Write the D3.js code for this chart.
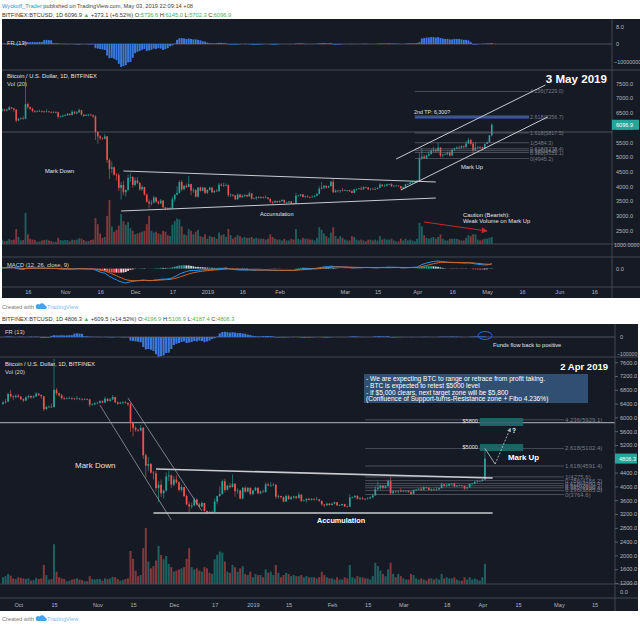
<!DOCTYPE html>
<html>
<head>
<meta charset="utf-8">
<script src="https://cdn.jsdelivr.net/npm/d3@7"></script>
<style>
  html, body { margin: 0; padding: 0; background: #ffffff; }
  svg { display: block; font-family: "Liberation Sans", Arial, sans-serif; white-space: pre; }
</style>
</head>
<body>
<svg id="chart" width="640" height="627"></svg>
<script>
// Daily BITFINEX BTC/USD candles, 2018-09-25 .. 2019-05-03 (open = previous close)
const START_DAY = "2018-09-25";
const FIRST_OPEN = 6390;

const closes = [
  6430, 6460, 6680, 6610, 6590, 6630,
  6600, 6530, 6490, 6580, 6620, 6580, 6610, 6690, 6650, 6610,
  6240, 6300, 6310, 6300, 6800, 6700, 6640, 6560, 6540, 6550,
  6560, 6550, 6530, 6550, 6530, 6520, 6530, 6520, 6370, 6380, 6410,
  6420, 6470, 6430, 6540, 6480, 6520, 6590, 6440, 6400, 6430,
  6440, 6420, 6380, 5850, 5700, 5640, 5620, 5700, 4900, 4600,
  4650, 4400, 4380, 3950, 4050, 3800, 3880, 4290, 4320, 4050,
  4200, 4120, 3900, 3980, 3720, 3480, 3420, 3450, 3620, 3480,
  3420, 3520, 3290, 3250, 3240, 3260, 3560, 3720, 3780, 4150,
  3900, 4020, 3980, 4080, 3860, 3880, 3650, 3960, 3850, 3960, 3780,
  3880, 3960, 3800, 3850, 3840, 4060, 4030, 4040, 4050, 3700,
  3720, 3690, 3560, 3720, 3630, 3680, 3710, 3660, 3760, 3580,
  3600, 3640, 3610, 3640, 3620, 3625, 3580, 3480, 3450, 3500, 3460,
  3500, 3540, 3450, 3455, 3490, 3420, 3410, 3680, 3690, 3730,
  3640, 3660, 3640, 3630, 3650, 3680, 3740, 3920, 3960, 4020,
  3960, 4010, 4160, 3800, 3860, 3850, 3860, 3850,
  3870, 3875, 3840, 3780, 3900, 3910, 3930, 3900, 3980, 3960,
  3900, 3920, 3900, 3910, 3950, 4060, 4010, 4020, 4070, 4080,
  4000, 4020, 4030, 4010, 3940, 3970, 4070, 4080, 4130, 4150, 4155,
  4197, 4950, 5010, 4950, 5050, 5100, 5220, 5250, 5200, 5320,
  5050, 5080, 5090, 5150, 5050, 5250, 5280, 5320, 5310, 5370,
  5340, 5460, 5580, 5450, 5220, 5320, 5340, 5330, 5300, 5440,
  5500, 5736.6, 6096.9
];

const highs = [
  6480, 6530, 6720, 6800, 6640, 6660,
  6680, 6620, 6550, 6620, 6660, 6640, 6640, 6730, 6700, 6670,
  6620, 6340, 6350, 6400, 7700, 6850, 6720, 6680, 6600, 6590,
  6610, 6590, 6570, 6620, 6570, 6560, 6560, 6560, 6540, 6410, 6450,
  6460, 6500, 6490, 6600, 6560, 6560, 6650, 6600, 6460, 6460,
  6470, 6480, 6440, 6420, 5880, 5750, 5670, 5780, 5720, 4950,
  4850, 4680, 4450, 4450, 4150, 4200, 3900, 4400, 4450, 4350,
  4300, 4320, 4150, 4050, 3990, 3760, 3560, 3530, 3680, 3650,
  3520, 3570, 3530, 3300, 3290, 3300, 3650, 3730, 4000, 4200,
  4220, 4050, 4100, 4350, 4090, 3950, 3900, 3980, 4000, 3980, 3970,
  3900, 3990, 3970, 3880, 3910, 4120, 4110, 4130, 4100, 4060,
  3760, 3730, 3710, 3760, 3760, 3730, 3730, 3720, 3820, 3780,
  3620, 3660, 3670, 3660, 3660, 3700, 3640, 3590, 3490, 3530, 3520,
  3530, 3560, 3550, 3480, 3500, 3500, 3440, 3780, 3710, 3740,
  3740, 3690, 3700, 3660, 3690, 3710, 3780, 4000, 4150, 4050,
  4040, 4030, 4200, 4276, 3900, 3880, 3880, 3950,
  3900, 3880, 3880, 3860, 3910, 3930, 3950, 3990, 4000, 3990,
  3980, 3940, 3940, 3980, 3970, 4110, 4070, 4080, 4090, 4100,
  4110, 4040, 4050, 4040, 4020, 3990, 4090, 4100, 4160, 4190, 4170,
  4220, 5150, 5300, 5080, 5080, 5200, 5270, 5350, 5260, 5484,
  5340, 5110, 5130, 5180, 5200, 5270, 5320, 5360, 5380, 5400,
  5380, 5540, 5650, 5620, 5520, 5500, 5380, 5370, 5350, 5460,
  5530, 5760, 6145
];

const lows = [
  6360, 6400, 6440, 6560, 6500, 6550,
  6560, 6500, 6440, 6470, 6540, 6540, 6550, 6590, 6620, 6540,
  6180, 6220, 6280, 6270, 6280, 6640, 6600, 6520, 6500, 6520,
  6530, 6510, 6500, 6510, 6500, 6490, 6500, 6500, 6300, 6340, 6350,
  6380, 6400, 6410, 6410, 6450, 6460, 6500, 6410, 6360, 6390,
  6380, 6390, 6330, 5580, 5450, 5580, 5570, 5600, 4800, 4250,
  4450, 4370, 4200, 3850, 3550, 3700, 3650, 3850, 4150, 3950,
  4000, 4080, 3850, 3850, 3690, 3450, 3250, 3350, 3420, 3440,
  3380, 3400, 3270, 3200, 3220, 3220, 3240, 3480, 3700, 3760,
  3830, 3880, 3940, 3970, 3700, 3780, 3620, 3620, 3820, 3830, 3740,
  3740, 3860, 3770, 3770, 3820, 3810, 4000, 3980, 4010, 3640,
  3640, 3640, 3540, 3550, 3610, 3620, 3630, 3630, 3650, 3550,
  3560, 3530, 3590, 3590, 3580, 3600, 3550, 3430, 3400, 3440, 3440,
  3450, 3480, 3430, 3430, 3440, 3400, 3390, 3400, 3650, 3650,
  3620, 3600, 3610, 3600, 3620, 3640, 3660, 3730, 3900, 3900,
  3920, 3940, 3990, 3770, 3790, 3800, 3780, 3830,
  3840, 3820, 3810, 3765, 3770, 3860, 3890, 3870, 3890, 3930,
  3880, 3860, 3880, 3870, 3900, 3940, 3990, 3990, 4000, 4040,
  3980, 3990, 4000, 3990, 3900, 3920, 3960, 4050, 4060, 4100, 4130,
  4140, 4187, 4900, 4945, 4940, 5020, 5080, 5170, 5150, 5180,
  4980, 4980, 5060, 5060, 5020, 5040, 5220, 5270, 5260, 5290,
  5300, 5320, 5440, 5400, 5100, 5200, 5290, 5290, 5240, 5290,
  5440, 5480, 5702.3
];

// volume, relative units (largest bar = 100)
const volumes = [
  12, 14, 18, 15, 10, 9,
  12, 11, 10, 9, 10, 6, 7, 11, 9, 10,
  34, 16, 8, 9, 71, 22, 12, 10, 9, 5,
  6, 8, 9, 10, 8, 7, 5, 5, 14, 9, 8,
  9, 9, 6, 10, 9, 10, 13, 12, 9, 6,
  7, 9, 10, 59, 45, 24, 14, 16, 64, 100,
  40, 28, 32, 42, 68, 52, 44, 50, 36, 30,
  22, 24, 26, 28, 30, 45, 64, 30, 26, 28,
  24, 22, 30, 28, 20, 18, 44, 52, 58, 56,
  40, 22, 20, 34, 30, 22, 28, 32, 18, 16, 22,
  12, 18, 16, 16, 12, 26, 20, 22, 16, 34,
  20, 12, 16, 20, 18, 14, 16, 14, 14, 16,
  12, 14, 12, 12, 12, 10, 12, 22, 16, 12, 10,
  10, 8, 12, 8, 8, 12, 10, 34, 12, 10,
  14, 12, 12, 10, 10, 8, 14, 38, 32, 24,
  18, 14, 26, 38, 18, 12, 18, 14,
  10, 8, 8, 18, 16, 10, 8, 10, 8, 6,
  10, 10, 8, 10, 8, 18, 10, 12, 10, 10,
  12, 8, 6, 6, 12, 8, 12, 8, 10, 8, 6,
  12, 48, 40, 20, 14, 12, 14, 16, 12, 16,
  22, 12, 8, 8, 12, 12, 12, 12, 10, 8,
  8, 14, 20, 18, 22, 22, 10, 8, 10, 12,
  12, 14, 16
];

// FR (13) histogram, relative units (deepest bar = -100)
const fundFlow = [
  0, 2, 3, 2, 1, 0,
  1, 2, 1, 0, 1, 2, 1, 2, 1, -4,
  -5, -4, -3, 6, 9, 8, 8, 9, 8, 8,
  9, 9, 17, 18, 17, 16, 4, 3, 2, 1, 1,
  1, -1, 0, 1, -1, -2, -2, -1, 0, -1,
  -2, -2, -1, -18, -20, -22, -24, -26, -50, -62,
  -60, -64, -70, -86, -100, -96, -92, -80, -78, -60,
  -40, -34, -30, -25, -22, -30, -28, -25, -20, -22,
  -18, -20, -26, -22, -18, -10, -6, 2, 18, 25,
  26, 24, 22, 24, 22, 20, 20, 18, 16, 12, 10,
  6, 4, 3, 3, 4, 5, 5, 4, 3, -2,
  -3, -2, -3, -2, -1, 0, 1, 0, -1, -3,
  -4, -3, -3, -2, -1, 0, 0, -2, -3, -3, -2,
  -1, 0, 0, 0, 0, 0, 0, 2, 3, 3,
  2, 1, 0, 0, 0, 0, 1, 3, 4, 4,
  3, 3, 4, -2, -3, -2, -2, -1,
  0, 0, 0, -1, 0, 0, 0, 0, 1, 1,
  0, 0, 0, 0, 1, 2, 2, 2, 2, 3,
  2, 2, 1, 1, 0, 0, 1, 2, 3, 3, 3,
  4, 8, 24, 26, 28, 28, 30, 30, 28, 30,
  26, 24, 22, 22, 20, 20, 22, 22, 22, 20,
  18, 18, 16, 8, -2, -3, -1, 0, 1, 1,
  2, 3, 4
];

// the Apr 2 candle as it stood when the lower chart was published
const apr2Snapshot = { day: "2019-04-02", open: 4196.9, high: 5106.9, low: 4187.4, close: 4806.3, vol: 36, fr: 3 };

const topPriceTicks = [7500, 7000, 6500, 6000, 5500, 5000, 4500, 4000, 3500, 3000, 2500];
const bottomPriceTicks = [7600, 7200, 6800, 6400, 6000, 5600, 5200, 4400, 4000, 3600, 3200, 2800, 2400, 2000, 1600, 1200];

const topTickDays = ["2018-10-16", "2018-11-01", "2018-11-16", "2018-12-01", "2018-12-17", "2019-01-01", "2019-01-16", "2019-02-01",
  "2019-03-01", "2019-03-15", "2019-04-01", "2019-04-16", "2019-05-01", "2019-05-16", "2019-06-01", "2019-06-16"];
const topTickLabels = ["16", "Nov", "16", "Dec", "17", "2019", "16", "Feb", "Mar", "15", "Apr", "16", "May", "16", "Jun", "16"];
const bottomTickDays = ["2018-10-01", "2018-10-15", "2018-11-01", "2018-11-15", "2018-12-01", "2018-12-17", "2019-01-01", "2019-01-15",
  "2019-02-01", "2019-02-15", "2019-03-01", "2019-03-18", "2019-04-01", "2019-04-15", "2019-05-01", "2019-05-15"];
const bottomTickLabels = ["Oct", "15", "Nov", "15", "Dec", "17", "2019", "15", "Feb", "15", "Mar", "18", "Apr", "15", "May", "15"];

const topFibRatios = ["4.236", "2.618", "1.618", "1", "0.618", "0.5", "0.382", "0"];
const topFibPrices = [7229.0, 6356.7, 5817.5, 5484.3, 5278.4, 5214.8, 5151.1, 4945.2];
const topFibSpan = ["2019-03-31", "2019-05-19"];
const bottomFibRatios = ["4.236", "2.618", "1.618", "1", "0.786", "0.618", "0.5", "0.382", "0.236", "0"];
const bottomFibPrices = [5929.1, 5102.4, 4591.4, 4275.6, 4166.2, 4080.4, 4020.1, 3959.8, 3885.2, 3764.6];
const bottomFibSpan = ["2019-02-14", "2019-05-03"];

const RESIST_PRICE = 5850;

// drawn trend lines: [day, price] -> [day, price]
const topTrendLines = [
  [["2018-11-26", 4524], ["2019-04-09", 4150]],
  [["2018-11-25", 3163], ["2019-04-09", 3605]],
  [["2019-03-23", 4932], ["2019-05-26", 7449]],
  [["2019-03-25", 3878], ["2019-05-27", 6361]]
];
const topArrow = [["2019-04-04", 2789], ["2019-05-01", 2483]];
const topTargetBand = { from: "2019-03-31", to: "2019-05-19", lo: 6300, hi: 6420 };

const bottomChannelLines = [
  [["2018-11-02", 6359], ["2018-11-30", 3026]],
  [["2018-11-13", 6562], ["2018-12-12", 3287]]
];
const bottomRangeLines = [
  [["2018-11-24", 4504], ["2019-04-05", 4243]],
  [["2018-11-23", 3229], ["2019-04-05", 3229]]
];
const bottomZoneLabels = ["$5800", "$5000"];
const bottomZoneLo = [5751, 5026];
const bottomZoneHi = [5983, 5229];
const bottomZoneSpan = ["2019-03-31", "2019-04-17"];
const bottomPathSolid = [["2019-04-02", 5100], ["2019-04-06", 4650]];
const bottomPathDashed = [["2019-04-06", 4650], ["2019-04-12", 5690]];

const noteLines = [
  "- We are expecting BTC to range or retrace from profit taking.",
  "- BTC is expected to retest $5000 level",
  "- If $5,000 clears, next target zone will be $5,800",
  "(Confluence of Support-turns-Resistance zone + Fibo 4.236%)"
];

const BG = "#161a25";
const SEP = "#434651";
const AXIS_TEXT = "#b2b5be";
const UP = "#26a69a";
const DOWN = "#ef5350";
const FR_BLUE = "#3b78dc";
const FIB = "#787b86";
const DARK = "#333333";
const GREEN = "#4caf50";

const parseDay = d3.timeParse("%Y-%m-%d");
const parseHour = d3.timeParse("%Y-%m-%d %H");
const day0 = parseDay(START_DAY);

const bars = closes.map((c, i) => ({
  date: d3.timeDay.offset(day0, i),
  open: i === 0 ? FIRST_OPEN : closes[i - 1],
  high: highs[i], low: lows[i], close: c,
  vol: volumes[i], fr: fundFlow[i]
}));

const snapDate = parseDay(apr2Snapshot.day);
const barsApr2 = bars.filter(d => d.date < snapDate)
  .concat([{ date: snapDate, open: apr2Snapshot.open, high: apr2Snapshot.high, low: apr2Snapshot.low,
    close: apr2Snapshot.close, vol: apr2Snapshot.vol, fr: apr2Snapshot.fr }]);

const svg = d3.select("#chart");
const defs = svg.append("defs");
let clipCount = 0;

function clipRect(x, y, w, h) {
  const id = "clip" + (clipCount++);
  defs.append("clipPath").attr("id", id)
    .append("rect").attr("x", x).attr("y", y).attr("width", w).attr("height", h);
  return `url(#${id})`;
}

function addMarker(id, color) {
  defs.append("marker").attr("id", id).attr("viewBox", "0 0 10 10")
    .attr("refX", 9).attr("refY", 5).attr("markerWidth", 5).attr("markerHeight", 5)
    .attr("orient", "auto")
    .append("path").attr("d", "M0,0L10,5L0,10z").attr("fill", color);
}
addMarker("redHead", "#c62828");
addMarker("greyHead", "#b2b5be");

function text(g, s, x, y, size, fill, opts = {}) {
  return g.append("text").attr("x", x).attr("y", y)
    .attr("font-size", size).attr("fill", fill)
    .attr("font-weight", opts.bold ? "bold" : null)
    .attr("text-anchor", opts.anchor || null)
    .text(s);
}

function header(y, parts) {
  const t = svg.append("text").attr("x", 2).attr("y", y).attr("font-size", 5.7);
  parts.forEach(([s, col]) => t.append("tspan").attr("fill", col).text(s));
}

function createdWith(y) {
  const g = svg.append("g");
  text(g, "Created with", 2, y, 5.7, "#777");
  g.append("path")
    .attr("d", `M37,${y} h9 a2,2 0 0 0 -1,-3.6 a3,3 0 0 0 -5.4,-0.8 a2.2,2.2 0 0 0 -2.6,4.4 z`)
    .attr("fill", "#47a3e6");
  text(g, "TradingView", 47, y, 5.7, "#7cbdf0");
}

function ema(vals, n) {
  const k = 2 / (n + 1);
  let prev;
  return vals.map((v, i) => (prev = i === 0 ? v : v * k + prev * (1 - k)));
}

function lineAt(g, x, y, pts, stroke, width, extra = {}) {
  const l = g.append("line")
    .attr("x1", x(parseDay(pts[0][0]))).attr("y1", y(pts[0][1]))
    .attr("x2", x(parseDay(pts[1][0]))).attr("y2", y(pts[1][1]))
    .attr("stroke", stroke).attr("stroke-width", width);
  if (extra.dash) l.attr("stroke-dasharray", extra.dash);
  if (extra.marker) l.attr("marker-end", `url(#${extra.marker})`);
  return l;
}

function drawPanel(c) {
  const g = svg.append("g");
  g.append("rect").attr("x", c.bgL).attr("y", c.top)
    .attr("width", c.bgR - c.bgL).attr("height", c.bottom - c.top).attr("fill", BG);

  const x = d3.scaleTime().domain(c.xDomain.map(parseHour)).range([c.rangeL, c.plotR]);
  const y = d3.scaleLinear().domain(c.priceDomain).range([c.mainBottom, c.priceTopPx]);
  const yVol = d3.scaleLinear().domain([0, 100]).range([c.mainBottom, c.mainBottom - c.volPx]);
  const yFr = d3.scaleLinear().domain([-100, 0]).range([c.frZero + c.frPx, c.frZero]);
  const dayW = x(d3.timeDay.offset(x.domain()[0], 1)) - c.rangeL;
  const plotW = c.plotR - c.bgL;

  // FR pane
  const frG = g.append("g").attr("clip-path", clipRect(c.bgL, c.top, plotW, c.frBottom - c.top));
  frG.append("line").attr("x1", c.bgL).attr("x2", c.plotR).attr("y1", c.frZero).attr("y2", c.frZero)
    .attr("stroke", "#6a6d78").attr("stroke-width", 0.7);
  frG.append("g").selectAll("rect").data(c.series).join("rect")
    .attr("x", d => x(d.date) - dayW * 0.42).attr("width", dayW * 0.84)
    .attr("y", d => Math.min(yFr(d.fr), yFr(0)))
    .attr("height", d => Math.abs(yFr(d.fr) - yFr(0)))
    .attr("fill", FR_BLUE);

  // main pane: volume, candles, resistance line
  const mainClip = clipRect(c.bgL, c.mainTop, plotW, c.mainBottom - c.mainTop);
  const mainG = g.append("g").attr("clip-path", mainClip);
  mainG.append("g").selectAll("rect").data(c.series).join("rect")
    .attr("x", d => x(d.date) - dayW * 0.4).attr("width", dayW * 0.8)
    .attr("y", d => yVol(d.vol)).attr("height", d => yVol(0) - yVol(d.vol))
    .attr("fill", d => d.close >= d.open ? "rgba(38,166,154,0.5)" : "rgba(239,83,80,0.5)");

  mainG.append("line").attr("x1", c.bgL).attr("x2", c.plotR)
    .attr("y1", y(RESIST_PRICE)).attr("y2", y(RESIST_PRICE))
    .attr("stroke", c.resistColor).attr("stroke-width", c.resistWidth);

  const bodyW = Math.max(1, dayW * 0.68);
  mainG.append("g").selectAll("line").data(c.series).join("line")
    .attr("x1", d => x(d.date)).attr("x2", d => x(d.date))
    .attr("y1", d => y(d.high)).attr("y2", d => y(d.low))
    .attr("stroke", d => d.close >= d.open ? UP : DOWN).attr("stroke-width", 0.6);
  mainG.append("g").selectAll("rect").data(c.series).join("rect")
    .attr("x", d => x(d.date) - bodyW / 2).attr("width", bodyW)
    .attr("y", d => y(Math.max(d.open, d.close)))
    .attr("height", d => Math.max(0.6, Math.abs(y(d.open) - y(d.close))))
    .attr("fill", d => d.close >= d.open ? UP : DOWN);

  // MACD (12, 26, close, 9)
  if (c.macd) {
    const cl = c.series.map(d => d.close);
    const e12 = ema(cl, 12), e26 = ema(cl, 26);
    const m = cl.map((_, i) => e12[i] - e26[i]);
    const s = ema(m, 9);
    const md = c.series.map((d, i) => ({ date: d.date, macd: m[i], signal: s[i], hist: m[i] - s[i], prev: i ? m[i - 1] - s[i - 1] : 0 }));
    const vis = md.filter(d => d.date >= x.domain()[0]);
    const ext = d3.extent(vis.flatMap(d => [d.macd, d.signal]));
    const yM = d3.scaleLinear().domain(ext).range([c.macd.low, c.macd.high]);
    const mG = g.append("g").attr("clip-path", clipRect(c.bgL, c.macd.top, plotW, c.macd.bottom - c.macd.top));
    mG.append("g").selectAll("rect").data(md).join("rect")
      .attr("x", d => x(d.date) - dayW * 0.4).attr("width", dayW * 0.8)
      .attr("y", d => Math.min(yM(d.hist), yM(0)))
      .attr("height", d => Math.abs(yM(d.hist) - yM(0)))
      .attr("fill", d => d.hist >= 0 ? (d.hist > d.prev ? "#26a69a" : "#b2dfdb") : (d.hist < d.prev ? "#ff5252" : "#ffcdd2"));
    mG.append("path").datum(md)
      .attr("d", d3.line().x(d => x(d.date)).y(d => yM(d.macd)))
      .attr("fill", "none").attr("stroke", "#2196f3").attr("stroke-width", 1);
    mG.append("path").datum(md)
      .attr("d", d3.line().x(d => x(d.date)).y(d => yM(d.signal)))
      .attr("fill", "none").attr("stroke", "#d9661f").attr("stroke-width", 1);
    text(g, "0.0", c.plotR + 4, yM(0) + 2, 5.6, AXIS_TEXT);
  }

  // pane separators and price scale border
  c.seps.forEach(sy => {
    g.append("line").attr("x1", c.bgL).attr("x2", c.bgR).attr("y1", sy).attr("y2", sy)
      .attr("stroke", SEP).attr("stroke-width", 1);
  });
  g.append("line").attr("x1", c.plotR).attr("x2", c.plotR).attr("y1", c.top).attr("y2", c.bottom)
    .attr("stroke", SEP).attr("stroke-width", 1);

  // price axis
  const pa = g.append("g").attr("transform", `translate(${c.plotR},0)`)
    .call(d3.axisRight(y).tickValues(c.priceTicks).tickFormat(d3.format(".1f"))
      .tickSize(c.tickSize).tickPadding(c.tickPad));
  pa.select(".domain").remove();
  pa.selectAll("line").attr("stroke", "#5d606b");
  pa.selectAll("text").attr("fill", AXIS_TEXT).attr("font-size", 5.6).attr("font-family", null);

  // time axis
  const xa = g.append("g").attr("transform", `translate(0,${c.axisY})`)
    .call(d3.axisBottom(x).tickValues(c.tickDays.map(parseDay)).tickFormat((d, i) => c.tickLabels[i])
      .tickSize(0).tickPadding(c.xPad));
  xa.select(".domain").remove();
  xa.selectAll("text").attr("fill", AXIS_TEXT).attr("font-size", 5.6).attr("font-family", null);

  // last price marker
  const last = c.series[c.series.length - 1];
  g.append("rect").attr("x", c.plotR).attr("y", y(last.close) - 5)
    .attr("width", c.bgR - c.plotR - 1).attr("height", 10).attr("fill", UP);
  text(g, last.close.toFixed(1), c.plotR + 4, y(last.close) + 2, 5.6, "#ffffff");

  // pane titles
  text(g, "FR (13)", c.bgL + 5, c.frLabelY, 5.8, "#d1d4dc");
  text(g, "Bitcoin / U.S. Dollar, 1D, BITFINEX", c.bgL + 5, c.titleY, 5.8, "#e0e3eb");
  text(g, "Vol (20)", c.bgL + 5, c.titleY + 8, 5.8, "#d1d4dc");

  return { g, x, y, mainClip };
}

// ---------- upper chart (3 May 2019) ----------
header(8, [["Wyckoff_Trader", "#2e8fd8"], [" published on TradingView.com, May 03, 2019 22:09:14 +08", "#444"]]);
header(16.5, [["BITFINEX:BTCUSD, 1D 6096.9 ", DARK], ["\u25B2", GREEN], [" +373.1 (+6.52%) O:", DARK], ["5736.6", GREEN],
  [" H:", DARK], ["6145.0", GREEN], [" L:", DARK], ["5702.3", GREEN], [" C:", DARK], ["6096.9", GREEN]]);

const upper = drawPanel({
  series: bars, bgL: 2, bgR: 640, top: 19, bottom: 298, rangeL: 3, plotR: 612,
  xDomain: ["2018-10-05 08", "2019-06-23 14"],
  frZero: 44, frPx: 23, frBottom: 70, frLabelY: 45,
  mainTop: 70, mainBottom: 244, priceTopPx: 71, volPx: 44, priceDomain: [2041, 7925],
  macd: { top: 257, bottom: 287, low: 283, high: 261 },
  seps: [70, 244, 257, 287], axisY: 287, xPad: 3,
  priceTicks: topPriceTicks, tickSize: 0, tickPad: 4,
  tickDays: topTickDays, tickLabels: topTickLabels,
  resistColor: "#5d606b", resistWidth: 0.8, titleY: 78
});

text(upper.g, "8.0", 616, 29, 5.6, AXIS_TEXT);
text(upper.g, "0", 616, 46, 5.6, AXIS_TEXT);
text(upper.g, "\u221210000000", 614, 64, 5.4, AXIS_TEXT);
text(upper.g, "1000.0000", 614, 247, 5.4, AXIS_TEXT);

{
  const { x, y } = upper;
  const a = upper.g.append("g").attr("clip-path", upper.mainClip);
  a.append("rect").attr("x", x(parseDay(topTargetBand.from))).attr("width", x(parseDay(topTargetBand.to)) - x(parseDay(topTargetBand.from)))
    .attr("y", y(topTargetBand.hi)).attr("height", y(topTargetBand.lo) - y(topTargetBand.hi))
    .attr("fill", "#2f4f8f").attr("opacity", 0.9);
  topFibPrices.forEach((p, i) => {
    a.append("line").attr("x1", x(parseDay(topFibSpan[0]))).attr("x2", x(parseDay(topFibSpan[1])))
      .attr("y1", y(p)).attr("y2", y(p)).attr("stroke", FIB).attr("stroke-width", 0.7).attr("opacity", 0.8);
    text(a, `${topFibRatios[i]}(${p.toFixed(1)})`, x(parseDay(topFibSpan[1])) + 1, y(p) + 2, 5.4, FIB);
  });
  topTrendLines.forEach(pts => lineAt(a, x, y, pts, "#c9cbd1", 1));
  lineAt(a, x, y, topArrow, "#c62828", 1.2, { marker: "redHead" });

  text(a, "Mark Down", 45, 173, 5.8, "#e0e3eb");
  text(a, "Accumulation", 260, 216, 5.6, "#e0e3eb");
  text(a, "Mark Up", 461, 169, 5.8, "#e0e3eb");
  text(a, "2nd TP: 6,300?", 414, 114, 5.3, "#e0e3eb");
  text(a, "Caution (Bearish):", 463, 217, 5.8, "#e0e3eb");
  text(a, "Weak Volume on Mark Up", 463, 223, 5.8, "#e0e3eb");
  text(upper.g, "3 May 2019", 607, 83, 11.6, "#ffffff", { bold: true, anchor: "end" });
}
text(upper.g, "MACD (12, 26, close, 9)", 7, 267, 5.8, "#d1d4dc");

createdWith(309);

// ---------- lower chart (2 Apr 2019) ----------
header(320.5, [["BITFINEX:BTCUSD, 1D 4806.3 ", DARK], ["\u25B2", GREEN], [" +609.5 (+14.52%) O:", DARK], ["4196.9", GREEN],
  [" H:", DARK], ["5106.9", GREEN], [" L:", DARK], ["4187.4", GREEN], [" C:", DARK], ["4806.3", GREEN]]);

const lower = drawPanel({
  series: barsApr2, bgL: 0, bgR: 638, top: 324, bottom: 611, rangeL: 3, plotR: 615,
  xDomain: ["2018-09-25 00", "2019-05-23 00"],
  frZero: 337, frPx: 20, frBottom: 357, frLabelY: 334,
  mainTop: 357, mainBottom: 584, priceTopPx: 357, volPx: 56, priceDomain: [1171, 7751],
  macd: null,
  seps: [357, 584, 598], axisY: 598, xPad: 5,
  priceTicks: bottomPriceTicks, tickSize: 3, tickPad: 2,
  tickDays: bottomTickDays, tickLabels: bottomTickLabels,
  resistColor: "#9598a1", resistWidth: 1.2, titleY: 366
});

text(lower.g, "0", 620, 339, 5.6, AXIS_TEXT);
text(lower.g, "\u2212100000", 617, 356, 5.2, AXIS_TEXT);
text(lower.g, "0.0", 620, 594, 5.6, AXIS_TEXT);

{
  const { x, y } = lower;
  const a = lower.g.append("g").attr("clip-path", lower.mainClip);
  bottomFibPrices.forEach((p, i) => {
    a.append("line").attr("x1", x(parseDay(bottomFibSpan[0]))).attr("x2", x(parseDay(bottomFibSpan[1])))
      .attr("y1", y(p)).attr("y2", y(p)).attr("stroke", FIB).attr("stroke-width", 0.7).attr("opacity", 0.8);
    text(a, `${bottomFibRatios[i]}(${p.toFixed(1)})`, x(parseDay(bottomFibSpan[1])) + 1, y(p) + 2, 6, FIB);
  });
  bottomZoneLabels.forEach((lab, i) => {
    a.append("rect").attr("x", x(parseDay(bottomZoneSpan[0])))
      .attr("width", x(parseDay(bottomZoneSpan[1])) - x(parseDay(bottomZoneSpan[0])))
      .attr("y", y(bottomZoneHi[i])).attr("height", y(bottomZoneLo[i]) - y(bottomZoneHi[i]))
      .attr("fill", "#1d6b6a").attr("opacity", 0.9);
    text(a, lab, x(parseDay(bottomZoneSpan[0])) - 2, (y(bottomZoneHi[i]) + y(bottomZoneLo[i])) / 2 + 1, 5.5, "#e0e3eb", { anchor: "end" });
  });
  bottomChannelLines.forEach(pts => lineAt(a, x, y, pts, "#9598a1", 0.8));
  bottomRangeLines.forEach(pts => lineAt(a, x, y, pts, "#c9cbd1", 1.6));
  lineAt(a, x, y, bottomPathSolid, "#c9cbd1", 0.8);
  lineAt(a, x, y, bottomPathDashed, "#c9cbd1", 0.8, { dash: "2,1.5", marker: "greyHead" });

  text(a, "Mark Down", 75, 468, 8, "#e0e3eb");
  text(a, "Accumulation", 317, 523, 7.3, "#ffffff", { bold: true });
  text(a, "Mark Up", 508, 460, 7.9, "#ffffff", { bold: true });
  text(a, "?", 512, 433, 6.5, "#ffffff", { bold: true });

  a.append("rect").attr("x", 364).attr("y", 374).attr("width", 224).attr("height", 29)
    .attr("fill", "#34547a").attr("opacity", 0.92);
  noteLines.forEach((s, i) => text(a, s, 366, 381 + i * 6.8, 6.6, "#ffffff"));
  text(lower.g, "2 Apr 2019", 608, 370, 9.5, "#ffffff", { bold: true, anchor: "end" });
}
lower.g.append("ellipse").attr("cx", 485).attr("cy", 335.5).attr("rx", 7).attr("ry", 4)
  .attr("fill", "none").attr("stroke", "#2962ff").attr("stroke-width", 1);
text(lower.g, "Funds flow back to positive", 493, 347, 5.7, "#e0e3eb");

createdWith(621);
</script>
</body>
</html>
